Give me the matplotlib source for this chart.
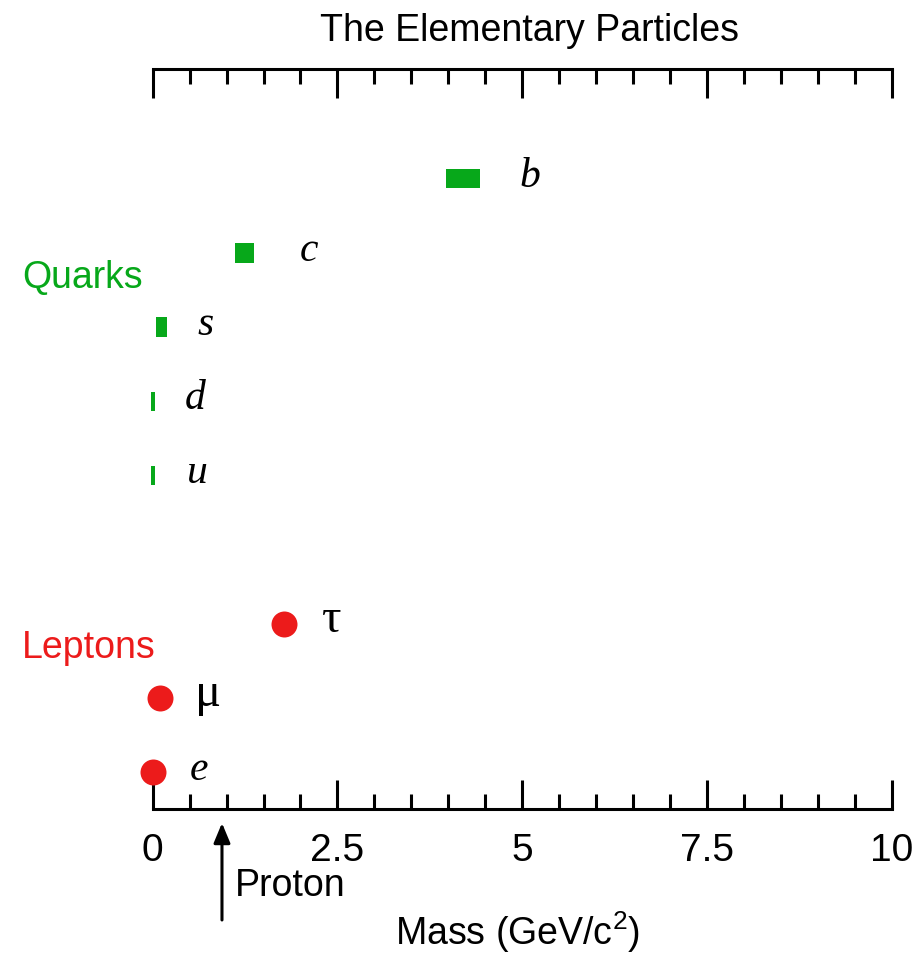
import matplotlib
matplotlib.use('Agg')
import matplotlib.pyplot as plt

plt.rcParams['font.family'] = ['Liberation Sans', 'DejaVu Sans']
plt.rcParams['mathtext.default'] = 'regular'

# quarks: mass range in GeV/c^2 (drawn as boxes), one row each
quark_names = ['u', 'd', 's', 'c', 'b']
quark_low = [-0.025, -0.025, 0.05, 1.12, 3.97]
quark_high = [0.03, 0.03, 0.19, 1.37, 4.43]
quark_rows = [5, 6, 7, 8, 9]

# leptons: mass in GeV/c^2
lepton_names = ['e', 'μ', 'τ']
lepton_mass = [0.000511, 0.1057, 1.777]
lepton_rows = [1, 2, 3]

proton_mass = 0.938

# label x positions (data units)
quark_label_x = [0.47, 0.44, 0.60, 1.99, 4.97]
lepton_label_x = [0.50, 0.57, 2.29]

green = '#07a81a'
red = '#ec1b1b'
fs = 27

fig = plt.figure(figsize=(9.18, 9.6), dpi=100)
ax = fig.add_axes([0.1663, 0.1573, 0.805, 0.7708])

ax.barh(quark_rows, [h - l for l, h in zip(quark_low, quark_high)], left=quark_low,
        height=0.26, color=green, clip_on=False, zorder=3)
ax.scatter(lepton_mass, lepton_rows, s=350, color=red, clip_on=False, zorder=3,
           linewidths=0)

for name, x, row in zip(quark_names, quark_label_x, quark_rows):
    ax.text(x, row - 0.11, name, fontsize=30, style='italic', va='baseline',
            family=['Liberation Serif', 'DejaVu Serif'])
for name, x, row in zip(lepton_names, lepton_label_x, lepton_rows):
    greek = name != 'e'
    ax.text(x, row - 0.11, name, fontsize=35 if greek else 30,
            style='normal' if greek else 'italic',
            va='baseline', family=['Liberation Serif', 'DejaVu Serif'])

ax.text(-1.77, 7.52, 'Quarks', color=green, fontsize=fs, va='baseline', clip_on=False)
ax.text(-1.77, 2.54, 'Leptons', color=red, fontsize=fs, va='baseline', clip_on=False)

ax.set_xlim(0, 10)
ax.set_ylim(0.5, 10.48)

for side in ['left', 'right']:
    ax.spines[side].set_visible(False)
for side in ['top', 'bottom']:
    ax.spines[side].set_linewidth(2.2)

ax.xaxis.set_major_locator(matplotlib.ticker.MultipleLocator(2.5))
ax.xaxis.set_minor_locator(matplotlib.ticker.MultipleLocator(0.5))
ax.xaxis.set_major_formatter('{x:g}')
ax.tick_params(axis='x', which='both', direction='in', top=True, bottom=True,
               width=2.2, labelsize=28, pad=17.5)
ax.tick_params(axis='x', which='major', length=21)
ax.tick_params(axis='x', which='minor', length=11)
ax.set_yticks([])

xt = ax.get_xaxis_transform()
ax.text(5.1, 1.038, 'The Elementary Particles', transform=xt, fontsize=fs,
        ha='center', va='baseline')
ax.text(4.94, -0.184, 'Mass (GeV/c$^2$)', transform=xt, fontsize=fs,
        ha='center', va='baseline', clip_on=False)

ax.annotate('', xy=(proton_mass, -0.019), xycoords=xt,
            xytext=(proton_mass, -0.15), textcoords=xt,
            arrowprops=dict(arrowstyle='-|>,head_length=0.6,head_width=0.25',
                            lw=2.2, color='black', shrinkA=0, shrinkB=0,
                            mutation_scale=20))
ax.text(1.11, -0.104, 'Proton', transform=xt, fontsize=fs, va='center')

fig.savefig('out.png', dpi=100)
